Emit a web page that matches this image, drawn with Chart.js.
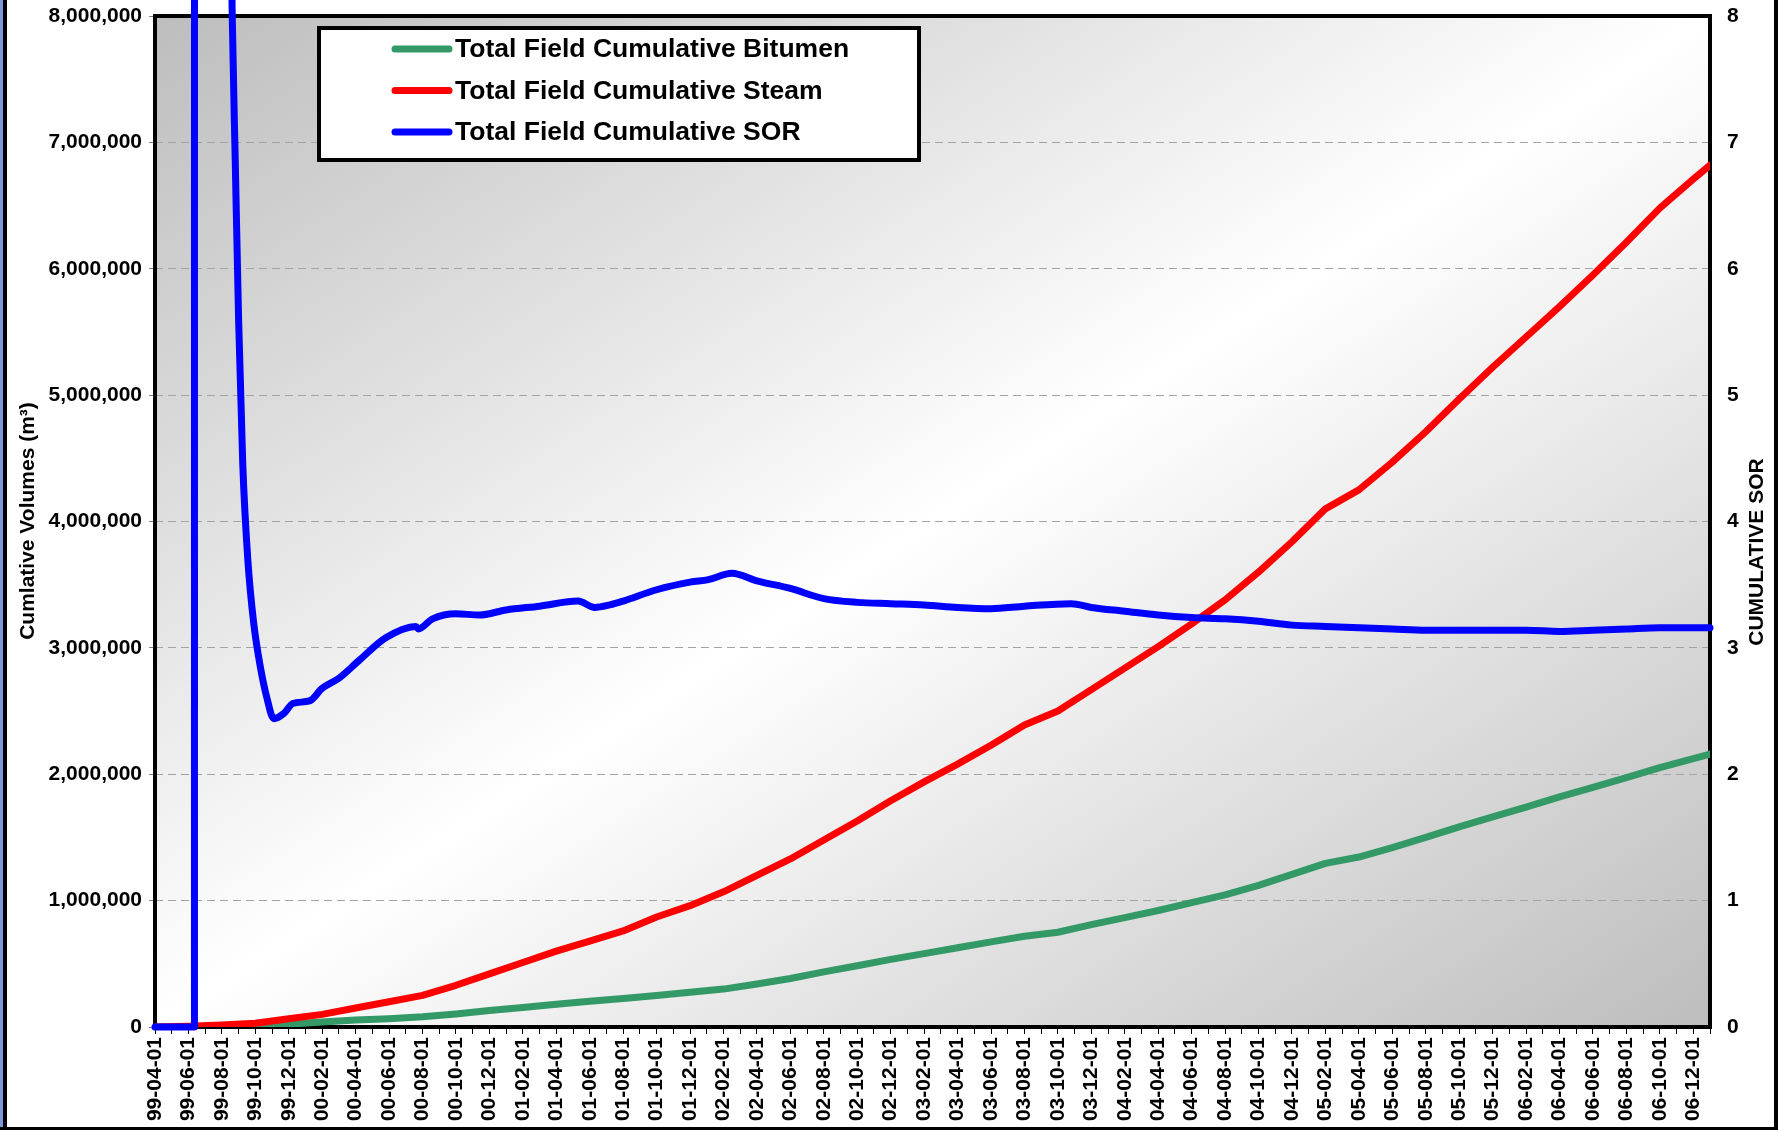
<!DOCTYPE html>
<html>
<head>
<meta charset="utf-8">
<title>Total Field Cumulative Volumes and SOR</title>
<script src="https://cdn.jsdelivr.net/npm/chart.js@4.4.1/dist/chart.umd.min.js"></script>
<style>
  html, body { margin: 0; padding: 0; background: #fff; overflow: hidden; }
  #wrap { position: relative; width: 1778px; height: 1130px; }
</style>
</head>
<body>
<div id="wrap"><canvas id="sorChart" width="1778" height="1130"></canvas></div>
<script>
// ----------------- Données -----------------
// x = mois écoulés depuis 1999-04-01
const tickLabels = [
  '99-04-01', '99-06-01', '99-08-01', '99-10-01', '99-12-01',
  '00-02-01', '00-04-01', '00-06-01', '00-08-01', '00-10-01', '00-12-01',
  '01-02-01', '01-04-01', '01-06-01', '01-08-01', '01-10-01', '01-12-01',
  '02-02-01', '02-04-01', '02-06-01', '02-08-01', '02-10-01', '02-12-01',
  '03-02-01', '03-04-01', '03-06-01', '03-08-01', '03-10-01', '03-12-01',
  '04-02-01', '04-04-01', '04-06-01', '04-08-01', '04-10-01', '04-12-01',
  '05-02-01', '05-04-01', '05-06-01', '05-08-01', '05-10-01', '05-12-01',
  '06-02-01', '06-04-01', '06-06-01', '06-08-01', '06-10-01', '06-12-01'
];

const volMonths = [0, 2, 4, 6, 8, 10, 12, 14, 16, 18, 20, 22, 24, 26, 28, 30,
  32, 34, 36, 38, 40, 42, 44, 46, 48, 50, 52, 54, 56, 58, 60, 62,
  64, 66, 68, 70, 72, 74, 76, 78, 80, 82, 84, 86, 88, 90, 92, 93];

// volumes cumulés (m3)
const bitumenVol = [0, 0, 1000, 5000, 22000, 40000, 55000, 66000, 81000, 103000, 130000, 155000,
  180000, 203000, 226000, 250000, 275000, 300000, 340000, 384000, 436000, 485000, 535000, 581000,
  627000, 674000, 718000, 750000, 810000, 865000, 922000, 984000, 1046000, 1121000, 1208000, 1295000,
  1345000, 1420000, 1500000, 1583000, 1663000, 1740000, 1821000, 1897000, 1973000, 2052000, 2124000, 2160000];

const steamVol = [0, 5000, 15000, 30000, 65000, 100000, 150000, 200000, 250000, 330000, 420000, 510000,
  600000, 680000, 760000, 870000, 960000, 1070000, 1200000, 1330000, 1480000, 1630000, 1790000, 1940000,
  2080000, 2230000, 2390000, 2500000, 2670000, 2840000, 3010000, 3190000, 3380000, 3600000, 3840000, 4100000,
  4250000, 4470000, 4710000, 4970000, 5220000, 5460000, 5700000, 5950000, 6210000, 6480000, 6710000, 6820000];

const sorMonths = [0, 2.36, 2.37, 4.0, 4.5, 4.62, 4.8, 5.0, 5.25, 5.55, 5.9, 6.3, 6.7, 7.1,
  7.7, 8.24, 9.24, 10, 11, 12.2, 13.8, 15.6, 15.75, 16.6, 18, 19.4, 21, 23, 25.3,
  26.3, 27.2, 28, 30, 32, 33.1, 34.5, 36, 38, 40, 42, 44, 46, 48, 50,
  52, 54.8, 56, 58, 60, 62, 64, 66, 68, 70, 72, 74, 76, 78, 80, 82, 84, 86, 88, 90, 92, 93];

const sorValues = [0, 0, 40, 20, 9.3, 8.0, 6.85, 5.6, 4.45, 3.7, 3.2, 2.85, 2.6, 2.44,
  2.48, 2.56, 2.58, 2.68, 2.76, 2.9, 3.08, 3.17, 3.15, 3.23, 3.27, 3.26, 3.30, 3.33, 3.37,
  3.32, 3.34, 3.37, 3.46, 3.52, 3.54, 3.59, 3.53, 3.47, 3.39, 3.36, 3.35, 3.34, 3.32, 3.31,
  3.33, 3.35, 3.32, 3.29, 3.26, 3.24, 3.23, 3.21, 3.18, 3.17, 3.16, 3.15, 3.14, 3.14, 3.14,
  3.14, 3.13, 3.14, 3.15, 3.16, 3.16, 3.16];

const toPoints = (xs, ys) => xs.map((x, i) => ({ x: x, y: ys[i] }));

const FONT = '"Liberation Sans", Arial, sans-serif';
const LINE_W = 7;

// ----------------- Plugins de dessin -----------------
// fond dégradé gris / blanc / gris de la zone de tracé
const plotBackground = {
  id: 'plotBackground',
  beforeDraw(chart) {
    const { ctx, chartArea: a } = chart;
    const w = a.right - a.left, h = a.bottom - a.top;
    const n2 = 1 / (w * w) + 1 / (h * h);
    const g = ctx.createLinearGradient(a.left, a.top, a.left + 2 / (w * n2), a.top + 2 / (h * n2));
    g.addColorStop(0, '#bdbdbd');
    g.addColorStop(0.5, '#ffffff');
    g.addColorStop(1, '#bdbdbd');
    ctx.save();
    ctx.fillStyle = g;
    ctx.fillRect(a.left, a.top, w, h);
    ctx.restore();
  }
};

// cadre noir de la zone de tracé (sous les courbes)
const plotFrame = {
  id: 'plotFrame',
  beforeDatasetsDraw(chart) {
    const { ctx, chartArea: a } = chart;
    ctx.save();
    ctx.strokeStyle = '#000';
    ctx.lineWidth = 4;
    ctx.strokeRect(a.left, a.top, a.right - a.left, a.bottom - a.top);
    ctx.restore();
  }
};

// légende encadrée dans le coin haut gauche
const legendBox = {
  id: 'legendBox',
  afterDatasetsDraw(chart) {
    const ctx = chart.ctx;
    ctx.save();
    ctx.fillStyle = '#fff';
    ctx.fillRect(319, 28, 600, 132);
    ctx.lineWidth = 4;
    ctx.strokeStyle = '#000';
    ctx.strokeRect(319, 28, 600, 132);
    ctx.font = 'bold 26.5px ' + FONT;
    ctx.textBaseline = 'middle';
    ctx.textAlign = 'left';
    chart.data.datasets.forEach((ds, i) => {
      const y = 49 + i * 41.5;
      ctx.strokeStyle = ds.borderColor;
      ctx.lineWidth = LINE_W;
      ctx.lineCap = 'round';
      ctx.beginPath();
      ctx.moveTo(395, y);
      ctx.lineTo(449, y);
      ctx.stroke();
      ctx.fillStyle = '#000';
      ctx.fillText(ds.label, 455, y + 1);
    });
    ctx.restore();
  }
};

// titres des axes + bordure de la page
const axisTitles = {
  id: 'axisTitles',
  afterDraw(chart) {
    const ctx = chart.ctx;
    ctx.save();
    ctx.fillStyle = '#000';
    ctx.font = 'bold 21px ' + FONT;
    ctx.textAlign = 'center';
    ctx.textBaseline = 'middle';

    ctx.save();
    ctx.translate(28, 521);
    ctx.rotate(-Math.PI / 2);
    ctx.fillText('Cumlative Volumes (m³)', 0, 0);
    ctx.restore();

    ctx.save();
    ctx.translate(1757, 552);
    ctx.rotate(-Math.PI / 2);
    ctx.fillText('CUMULATIVE SOR', 0, 0);
    ctx.restore();

    // bordure extérieure
    ctx.fillStyle = '#7f97d9';
    ctx.fillRect(0, 0, 3, 1130);
    ctx.fillStyle = '#000';
    ctx.fillRect(3, 0, 4, 1130);
    ctx.fillRect(1774, 0, 4, 1130);
    ctx.fillRect(0, 1127, 1778, 3);
    ctx.restore();
  }
};

// tailles d'axes fixes, sans marge ajoutée pour les libellés
const fixSize = (w, h) => s => {
  if (w) s.width = w;
  if (h) s.height = h;
  s.paddingTop = 0;
  s.paddingBottom = 0;
  s.paddingLeft = 0;
  s.paddingRight = 0;
};

// ----------------- Graphique -----------------
const ctx = document.getElementById('sorChart').getContext('2d');
const sorChart = new Chart(ctx, {
  type: 'line',
  data: {
    datasets: [
      {
        label: 'Total Field Cumulative Bitumen',
        data: toPoints(volMonths, bitumenVol),
        borderColor: '#339966',
        borderWidth: LINE_W,
        yAxisID: 'y',
        order: 3
      },
      {
        label: 'Total Field Cumulative Steam',
        data: toPoints(volMonths, steamVol),
        borderColor: '#ff0000',
        borderWidth: LINE_W,
        yAxisID: 'y',
        order: 2
      },
      {
        label: 'Total Field Cumulative SOR',
        data: toPoints(sorMonths, sorValues),
        borderColor: '#0000ff',
        borderWidth: LINE_W,
        yAxisID: 'y1',
        cubicInterpolationMode: 'monotone',
        clip: false,
        order: 1
      }
    ]
  },
  options: {
    responsive: false,
    animation: false,
    devicePixelRatio: 1,
    layout: { padding: { top: 16, left: 0, right: 0, bottom: 0 } },
    elements: {
      point: { radius: 0, hoverRadius: 0 },
      line: { tension: 0, borderJoinStyle: 'round', borderCapStyle: 'round', fill: false }
    },
    plugins: {
      legend: { display: false },
      tooltip: { enabled: false },
      title: { display: false }
    },
    scales: {
      x: {
        type: 'linear',
        min: 0,
        max: 93,
        afterFit: fixSize(0, 103),
        border: { display: false },
        grid: { drawOnChartArea: false, drawTicks: true, tickLength: 7, tickColor: '#000', tickBorderDash: [] },
        ticks: {
          stepSize: 1,
          autoSkip: false,
          maxRotation: 90,
          minRotation: 90,
          padding: 3,
          color: '#000',
          font: { family: FONT, size: 21, weight: 'bold' },
          callback: v => {
            const m = Math.round(v);
            return m % 2 === 0 && tickLabels[m / 2] ? tickLabels[m / 2] : '';
          }
        }
      },
      y: {
        position: 'left',
        min: 0,
        max: 8000000,
        afterFit: fixSize(155, 0),
        border: { display: false, dash: [8, 5] },
        grid: { color: '#a3a3a3', lineWidth: 1, tickLength: 6, tickColor: '#808080', tickBorderDash: [] },
        ticks: {
          stepSize: 1000000,
          padding: 7,
          color: '#000',
          font: { family: FONT, size: 21, weight: 'bold' },
          callback: v => v.toLocaleString('en-US')
        }
      },
      y1: {
        position: 'right',
        min: 0,
        max: 8,
        afterFit: fixSize(68, 0),
        border: { display: false },
        grid: { display: false, drawTicks: false },
        ticks: {
          stepSize: 1,
          padding: 17,
          color: '#000',
          font: { family: FONT, size: 21, weight: 'bold' }
        }
      }
    }
  },
  plugins: [plotBackground, plotFrame, legendBox, axisTitles]
});
</script>
</body>
</html>
